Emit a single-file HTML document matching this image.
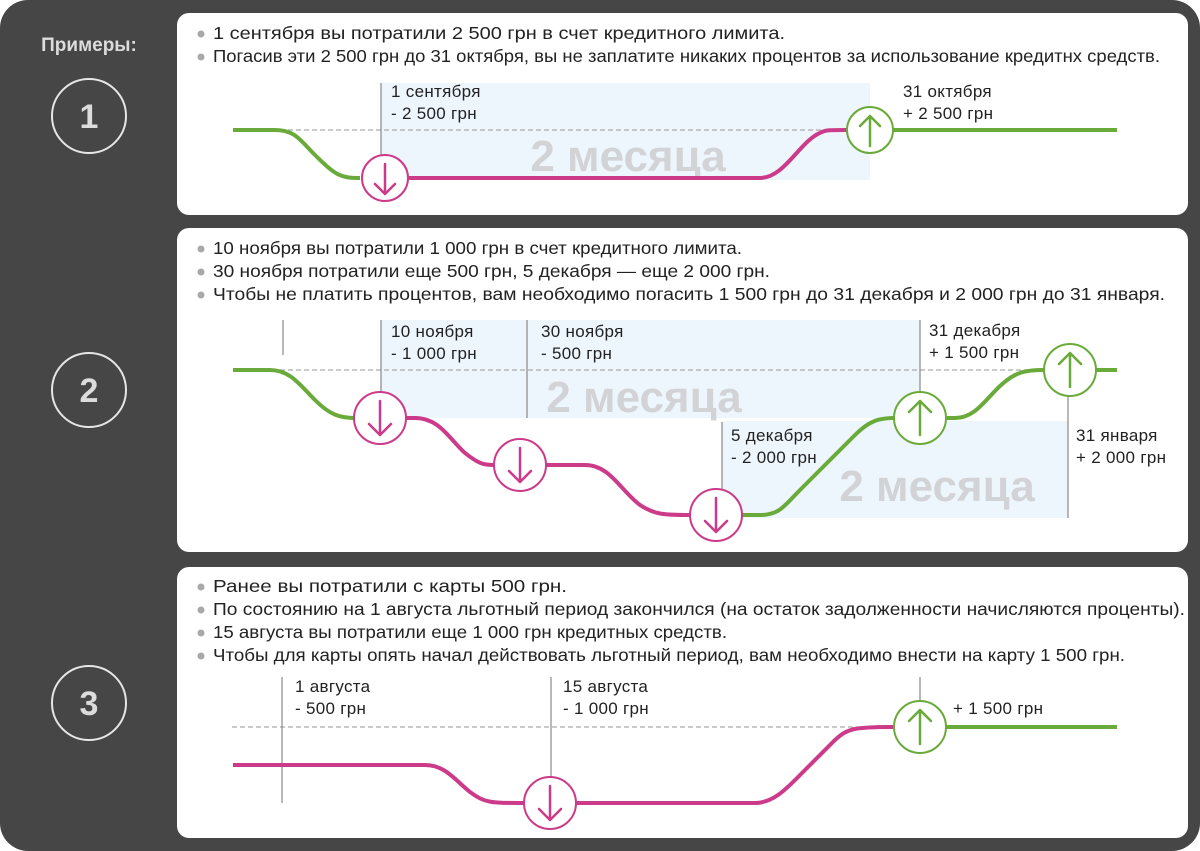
<!DOCTYPE html>
<html><head><meta charset="utf-8"><style>
html,body{margin:0;padding:0;background:#fff;}
svg{display:block;}
text{font-family:"Liberation Sans",sans-serif;}
</style></head><body>
<svg width="1200" height="851" viewBox="0 0 1200 851" xmlns="http://www.w3.org/2000/svg">
<rect x="0" y="0" width="1200" height="851" rx="28" fill="#464646"/>
<rect x="177" y="13" width="1011" height="202" rx="12" fill="#fff"/>
<rect x="177" y="228" width="1011" height="324" rx="12" fill="#fff"/>
<rect x="177" y="567" width="1011" height="271" rx="12" fill="#fff"/>

<text x="89" y="51" font-size="19" font-weight="bold" fill="#dcdcdc" text-anchor="middle">Примеры:</text>
<g fill="none" stroke="#e6e6e6" stroke-width="2">
<circle cx="89" cy="116" r="37"/><circle cx="89" cy="390" r="37"/><circle cx="89" cy="703" r="37"/>
</g>
<g font-size="34" font-weight="bold" fill="#dcdcdc" text-anchor="middle">
<text x="89" y="128">1</text><text x="89" y="402">2</text><text x="89" y="715">3</text>
</g>

<g font-size="17.5" fill="#222">
<text x="213" y="39" textLength="572" lengthAdjust="spacingAndGlyphs">1 сентября вы потратили 2 500 грн в счет кредитного лимита.</text>
<text x="213" y="62" textLength="947" lengthAdjust="spacingAndGlyphs">Погасив эти 2 500 грн до 31 октября, вы не заплатите никаких процентов за использование кредитнх средств.</text>
<text x="213" y="254" textLength="529" lengthAdjust="spacingAndGlyphs">10 ноября вы потратили 1 000 грн в счет кредитного лимита.</text>
<text x="213" y="277" textLength="557" lengthAdjust="spacingAndGlyphs">30 ноября потратили еще 500 грн, 5 декабря — еще 2 000 грн.</text>
<text x="213" y="300" textLength="952" lengthAdjust="spacingAndGlyphs">Чтобы не платить процентов, вам необходимо погасить 1 500 грн до 31 декабря и 2 000 грн до 31 января.</text>
<text x="213" y="592" textLength="354" lengthAdjust="spacingAndGlyphs">Ранее вы потратили с карты 500 грн.</text>
<text x="213" y="615" textLength="972" lengthAdjust="spacingAndGlyphs">По состоянию на 1 августа льготный период закончился (на остаток задолженности начисляются проценты).</text>
<text x="213" y="638" textLength="514" lengthAdjust="spacingAndGlyphs">15 августа вы потратили еще 1 000 грн кредитных средств.</text>
<text x="213" y="661" textLength="912" lengthAdjust="spacingAndGlyphs">Чтобы для карты опять начал действовать льготный период, вам необходимо внести на карту 1 500 грн.</text>
</g>
<g fill="#a8a8a8">
<circle cx="201" cy="34" r="3.5"/><circle cx="201" cy="57" r="3.5"/>
<circle cx="201" cy="249" r="3.5"/><circle cx="201" cy="272" r="3.5"/><circle cx="201" cy="295" r="3.5"/>
<circle cx="201" cy="587" r="3.5"/><circle cx="201" cy="610" r="3.5"/><circle cx="201" cy="633" r="3.5"/><circle cx="201" cy="656" r="3.5"/>
</g>

<g fill="#eef6fd">
<rect x="381" y="83" width="489" height="97"/>
<rect x="381" y="320" width="539" height="98"/>
<rect x="722" y="421" width="346" height="97"/>
</g>
<g font-size="44" font-weight="bold" fill="#d2d3d6" text-anchor="middle">
<text x="628" y="171">2 месяца</text>
<text x="644" y="412">2 месяца</text>
<text x="937" y="501">2 месяца</text>
</g>

<g stroke="#aaa" stroke-width="1.2" stroke-dasharray="5,3">
<line x1="280" y1="130" x2="850" y2="130"/>
<line x1="280" y1="370" x2="1048" y2="370"/>
<line x1="232" y1="727" x2="898" y2="727"/>
</g>
<g stroke="#888" stroke-width="1.2">
<line x1="381" y1="83" x2="381" y2="156"/>
<line x1="283" y1="320" x2="283" y2="355"/>
<line x1="381" y1="320" x2="381" y2="393"/>
<line x1="527" y1="320" x2="527" y2="418"/>
<line x1="722" y1="422" x2="722" y2="490"/>
<line x1="920" y1="320" x2="920" y2="392"/>
<line x1="1068" y1="396" x2="1068" y2="518"/>
<line x1="282" y1="677" x2="282" y2="803"/>
<line x1="551" y1="677" x2="551" y2="778"/>
<line x1="920" y1="677" x2="920" y2="702"/>
</g>

<g font-size="17" fill="#222" letter-spacing="0.3">
<text x="391" y="97">1 сентября</text><text x="391" y="119">- 2 500 грн</text>
<text x="903" y="97">31 октября</text><text x="903" y="119">+ 2 500 грн</text>
<text x="391" y="337">10 ноября</text><text x="391" y="359">- 1 000 грн</text>
<text x="541" y="337">30 ноября</text><text x="541" y="359">- 500 грн</text>
<text x="731" y="441">5 декабря</text><text x="731" y="463">- 2 000 грн</text>
<text x="929" y="336">31 декабря</text><text x="929" y="358">+ 1 500 грн</text>
<text x="1076" y="441">31 января</text><text x="1076" y="463">+ 2 000 грн</text>
<text x="295" y="692">1 августа</text><text x="295" y="714">- 500 грн</text>
<text x="563" y="692">15 августа</text><text x="563" y="714">- 1 000 грн</text>
<text x="953" y="714">+ 1 500 грн</text>
</g>

<g fill="none" stroke-width="4" stroke-linecap="butt">
<path d="M233 130 H275 C295 130 300 140 315 155 C335 175 340 178 360 178" stroke="#6aaa3a"/>
<path d="M408 178 H760 C785 178 800 140 822 132 C826 130 830 130 848 130" stroke="#cc3a8a"/>
<path d="M893 130 H1117" stroke="#6aaa3a"/>

<path d="M233 370 H270 C290 370 300 385 315 400 C330 415 340 418 355 418" stroke="#6aaa3a"/>
<path d="M406 418 H415 C440 418 450 440 465 453 C480 465 485 465 495 465 M546 465 H585 C610 465 620 490 640 505 C655 515 665 515 690 515" stroke="#cc3a8a"/>
<path d="M742 515 H760 C780 515 785 505 800 490 L855 435 C870 420 880 418 894 418 M946 418 H955 C975 418 985 400 1000 386 C1015 372 1025 370 1044 370 M1096 370 H1117" stroke="#6aaa3a"/>

<path d="M233 765 H425 C445 765 455 780 470 792 C485 803 490 803 524 803 M576 803 H755 C775 803 790 785 805 770 L835 740 C848 728 855 727 894 727" stroke="#cc3a8a"/>
<path d="M946 727 H1117" stroke="#6aaa3a"/>
</g>

<g stroke-width="2" fill="#fff">
<circle cx="385" cy="178" r="23" stroke="#cc3a8a"/>
<circle cx="870" cy="130" r="23" stroke="#6aaa3a"/>
<circle cx="380" cy="418" r="26" stroke="#cc3a8a"/>
<circle cx="520" cy="465" r="26" stroke="#cc3a8a"/>
<circle cx="716" cy="515" r="26" stroke="#cc3a8a"/>
<circle cx="920" cy="418" r="26" stroke="#6aaa3a"/>
<circle cx="1070" cy="370" r="26" stroke="#6aaa3a"/>
<circle cx="550" cy="803" r="26" stroke="#cc3a8a"/>
<circle cx="920" cy="727" r="26" stroke="#6aaa3a"/>
</g>
<g fill="none" stroke-width="2.5" stroke-linecap="round" stroke-linejoin="round">
<path d="M385 164 V194 M375 184 L385 194 L395 184" stroke="#cc3a8a"/>
<path d="M870 146 V116 M860 126 L870 116 L880 126" stroke="#6aaa3a"/>
<path d="M380 401 V435 M369 424 L380 435 L391 424" stroke="#cc3a8a"/>
<path d="M520 448 V482 M509 471 L520 482 L531 471" stroke="#cc3a8a"/>
<path d="M716 498 V532 M705 521 L716 532 L727 521" stroke="#cc3a8a"/>
<path d="M920 435 V401 M909 412 L920 401 L931 412" stroke="#6aaa3a"/>
<path d="M1070 387 V353 M1059 364 L1070 353 L1081 364" stroke="#6aaa3a"/>
<path d="M550 786 V820 M539 809 L550 820 L561 809" stroke="#cc3a8a"/>
<path d="M920 744 V710 M909 721 L920 710 L931 721" stroke="#6aaa3a"/>
</g>
</svg>
</body></html>
